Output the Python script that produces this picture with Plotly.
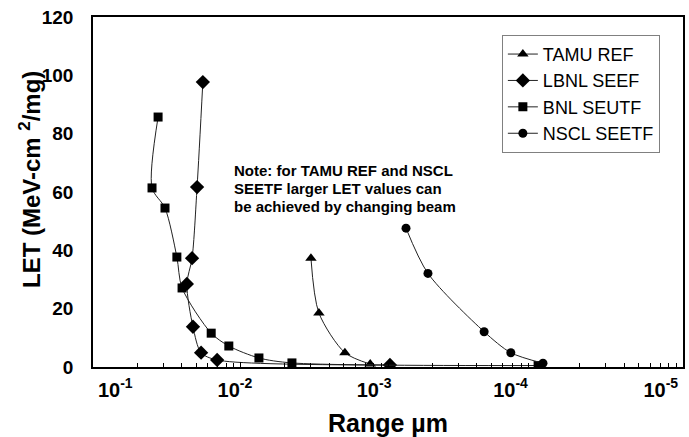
import plotly.graph_objects as go

# ---- data (Range in µm, LET in MeV-cm2/mg) ----
tamu_range = [3.33e-3, 2.94e-3, 1.96e-3, 1.32e-3]
tamu_let = [37.3, 18.5, 4.9, 1.0]

lbnl_range = [0.0180, 0.0197, 0.0213, 0.0231, 0.0210, 0.0185, 0.0144, 9.7e-4]
lbnl_let = [97.7, 61.7, 37.3, 28.5, 13.8, 4.9, 2.4, 0.7]

bnl_range = [0.0362, 0.0398, 0.0325, 0.0270, 0.0249, 0.0158, 0.0120, 0.0075, 0.00448, 9.6e-5]
bnl_let = [85.7, 61.4, 54.5, 37.7, 27.1, 11.6, 7.2, 3.1, 1.4, 0.5]

nscl_range = [7.55e-4, 5.36e-4, 2.23e-4, 1.47e-4, 8.9e-5]
nscl_let = [47.6, 32.1, 12.1, 4.9, 1.3]

series_names = ["TAMU REF", "LBNL SEEF", "BNL SEUTF", "NSCL SEETF"]

x_tick_vals = [1e-1, 1e-2, 1e-3, 1e-4, 1e-5]
x_tick_exps = ["-1", "-2", "-3", "-4", "-5"]
y_tick_vals = [0, 20, 40, 60, 80, 100, 120]

note_lines = ["Note: for TAMU REF and NSCL",
              "SEETF larger LET values can",
              "be achieved by changing beam"]

FONT = "Liberation Sans, Arial, sans-serif"
NB = "\u00a0"
# label padding mimics the hand-placed labels of the original
pads = [(8, 0), (0, 2), (0, 5), (0, 9), (0, 8)]
x_tick_text = [NB * a + "10<sup>" + e + "</sup>" + NB * b for (a, b), e in zip(pads, x_tick_exps)]

# minor tick marks as drawn in the original (2x..9x pattern within each decade)
minor_vals = [10.0 ** k / m for k in (-1, -2, -3, -4) for m in range(2, 10)]

fig = go.Figure()
line_style = dict(color="#222222", width=1, shape="spline", smoothing=0.8)
specs = [
    (tamu_range, tamu_let, "triangle-up", 10),
    (lbnl_range, lbnl_let, "diamond", 11),
    (bnl_range, bnl_let, "square", 9),
    (nscl_range, nscl_let, "circle", 9),
]
for name, (xs, ys, sym, sz) in zip(series_names, specs):
    fig.add_trace(go.Scatter(
        x=xs, y=ys, name=name, mode="lines+markers",
        line=line_style,
        marker=dict(symbol=sym, size=sz, color="black"),
    ))

fig.update_layout(
    width=689, height=437,
    margin=dict(l=93, r=6, t=17, b=70),
    paper_bgcolor="white", plot_bgcolor="white",
    font=dict(family=FONT, color="black"),
    showlegend=True,
    legend=dict(
        x=0.693, y=0.949, xanchor="left", yanchor="top",
        bordercolor="#808080", borderwidth=1, bgcolor="white",
        font=dict(size=18, family=FONT, color="black"),
        tracegroupgap=0, itemwidth=30,
    ),
)

fig.update_xaxes(
    type="log", range=[-1, -5], autorange=False,
    tickmode="array", tickvals=x_tick_vals, ticktext=x_tick_text,
    ticks="inside", ticklen=5, tickwidth=1, tickcolor="black",
    minor=dict(tickmode="array", tickvals=minor_vals, ticks="inside",
               ticklen=4, tickwidth=1, tickcolor="black", showgrid=False),
    tickfont=dict(size=20, family=FONT, weight="bold", color="black"),
    ticklabelstandoff=4, ticklabeloverflow="allow",
    showline=True, linecolor="black", linewidth=1.5, mirror=True,
    showgrid=False, zeroline=False, automargin=False,
    title=dict(text="Range µm", font=dict(size=25, family=FONT, weight="bold"),
               standoff=16),
)
fig.update_yaxes(
    range=[0, 120], autorange=False,
    tickmode="array", tickvals=y_tick_vals,
    ticks="", tickfont=dict(size=19, family=FONT, weight="bold", color="black"),
    ticklabelstandoff=14,
    showline=True, linecolor="black", linewidth=1.5, mirror=True,
    showgrid=False, zeroline=False, automargin=False,
)

# y-axis title (placed as in the original, slightly above centre)
fig.add_annotation(
    xref="paper", yref="paper", x=(30 - 93) / 590, y=(367 - 180) / 350,
    xanchor="center", yanchor="middle", textangle=-90, showarrow=False,
    text="LET (MeV-cm <sup>2</sup>/mg)",
    font=dict(size=24, family=FONT, weight="bold", color="black"),
)

for i, line in enumerate(note_lines):
    fig.add_annotation(
        xref="paper", yref="paper", x=(232 - 93) / 590,
        y=(367 - (171 + 17.5 * i)) / 350,
        xanchor="left", yanchor="middle", align="left", showarrow=False,
        text=line,
        font=dict(size=15, family=FONT, weight="bold", color="black"),
    )

fig.write_html("out.html", config={"displayModeBar": False},
               post_script="document.body.style.margin='0px';")
